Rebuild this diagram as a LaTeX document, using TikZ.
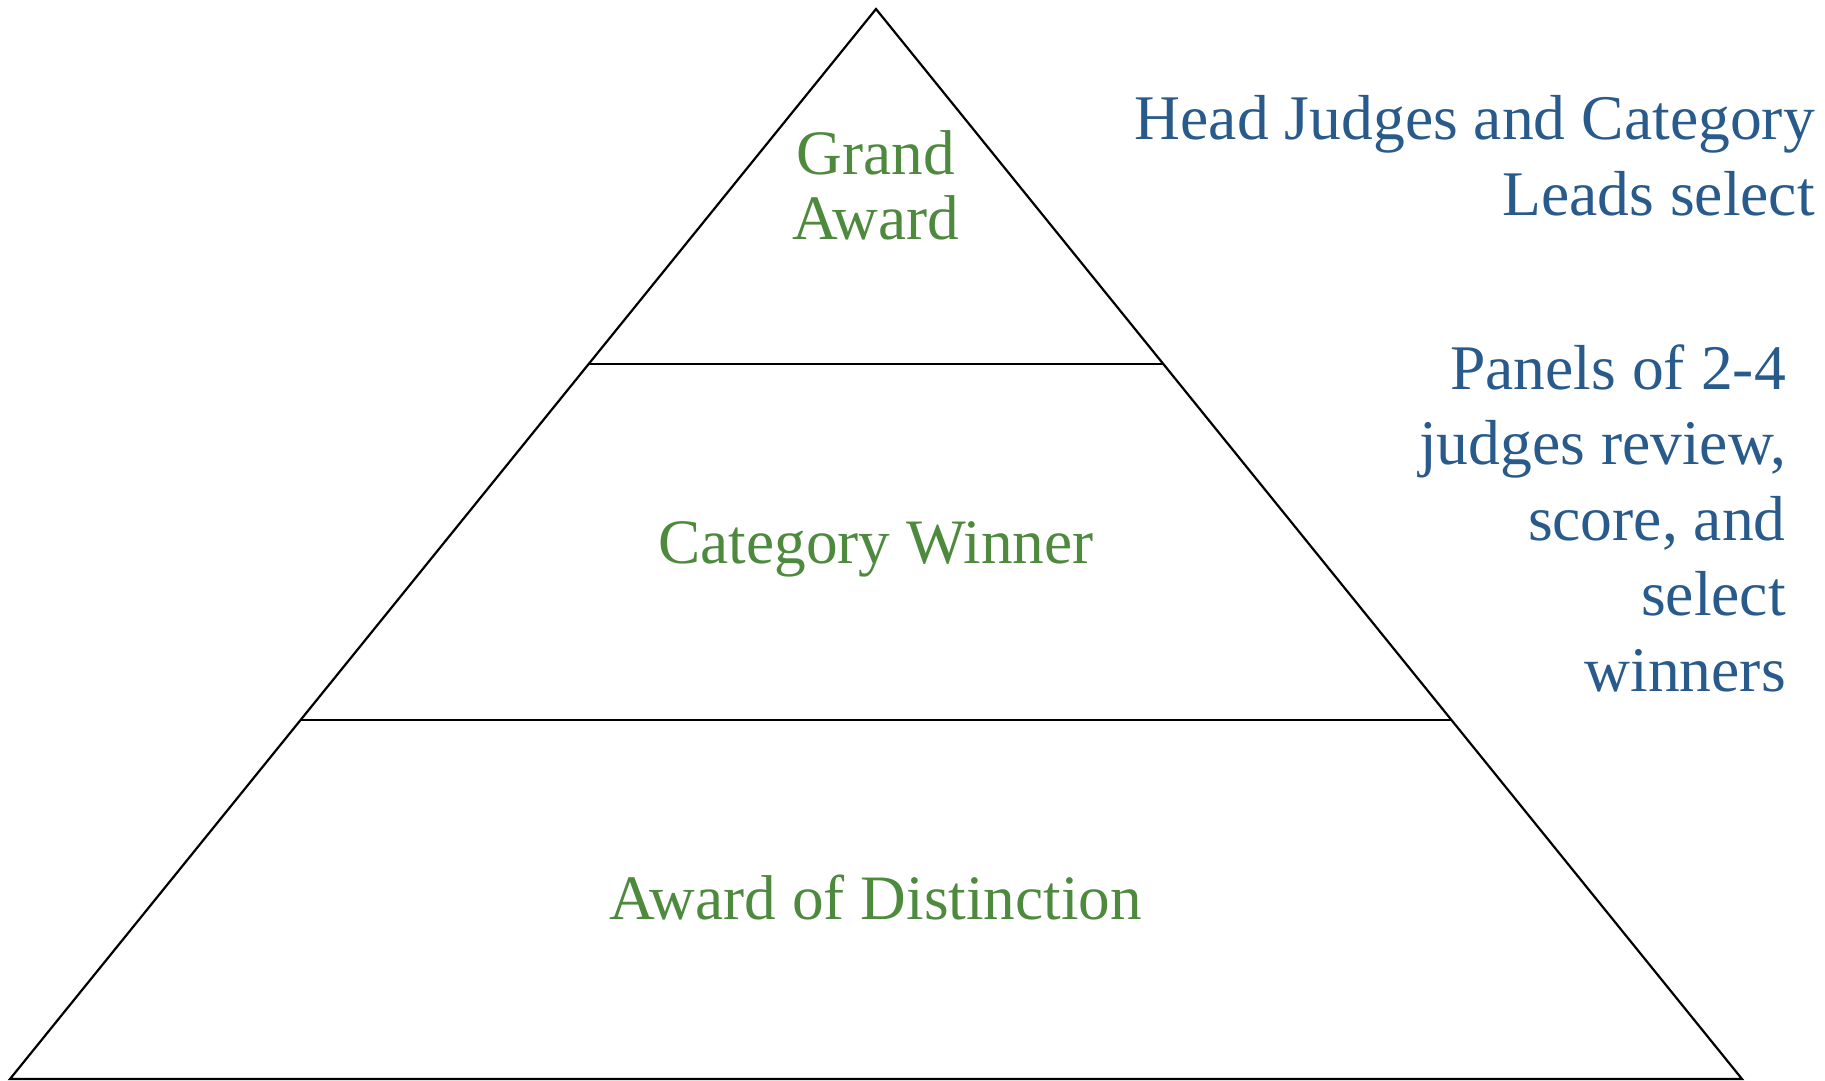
\documentclass[tikz,border=0pt]{standalone}
\usepackage{fontspec}
\setmainfont{Liberation Serif}
\usetikzlibrary{calc}
\definecolor{tiergreen}{HTML}{4E8A3E}
\definecolor{noteblue}{HTML}{285A8C}
\begin{document}
\begin{tikzpicture}[x=1pt,y=-1pt,
  edge/.style={draw=black,line width=2.2pt,line join=miter},
  tier/.style={text=tiergreen,inner sep=0pt,font=\fontsize{63.3}{65}\selectfont,align=center,anchor=base},
  note/.style={text=noteblue,inner sep=0pt,font=\fontsize{63.6}{75.5}\selectfont,align=right,anchor=base east}]
  \useasboundingbox (0,0) rectangle (1825,1080);
  % pyramid outline
  \coordinate (apex) at (876,9);
  \coordinate (bl) at (10,1079);
  \coordinate (br) at (1742,1079);
  \draw[edge] (apex) -- (br) -- (bl) -- cycle;
  % tier dividers
  \coordinate (d1l) at ($(apex)!0.3318!(bl)$);
  \coordinate (d1r) at ($(apex)!0.3318!(br)$);
  \coordinate (d2l) at ($(apex)!0.6645!(bl)$);
  \coordinate (d2r) at ($(apex)!0.6645!(br)$);
  \draw[edge] (d1l) -- (d1r);
  \draw[edge] (d2l) -- (d2r);
  % tier labels (multi-line nodes sit on the baseline of their last line)
  \node[tier] (grand) at (876,239) {Grand\\Award};
  \node[tier] (category) at (876,563) {Category Winner};
  \node[tier] (distinction) at (876,919) {Award of Distinction};
  % side notes
  \node[note] (heads) at (1815,215) {Head Judges and Category\\Leads select};
  \node[note] (panels) at (1786,691) {Panels of 2-4\\judges review,\\score, and\\select\\winners};
\end{tikzpicture}
\end{document}
